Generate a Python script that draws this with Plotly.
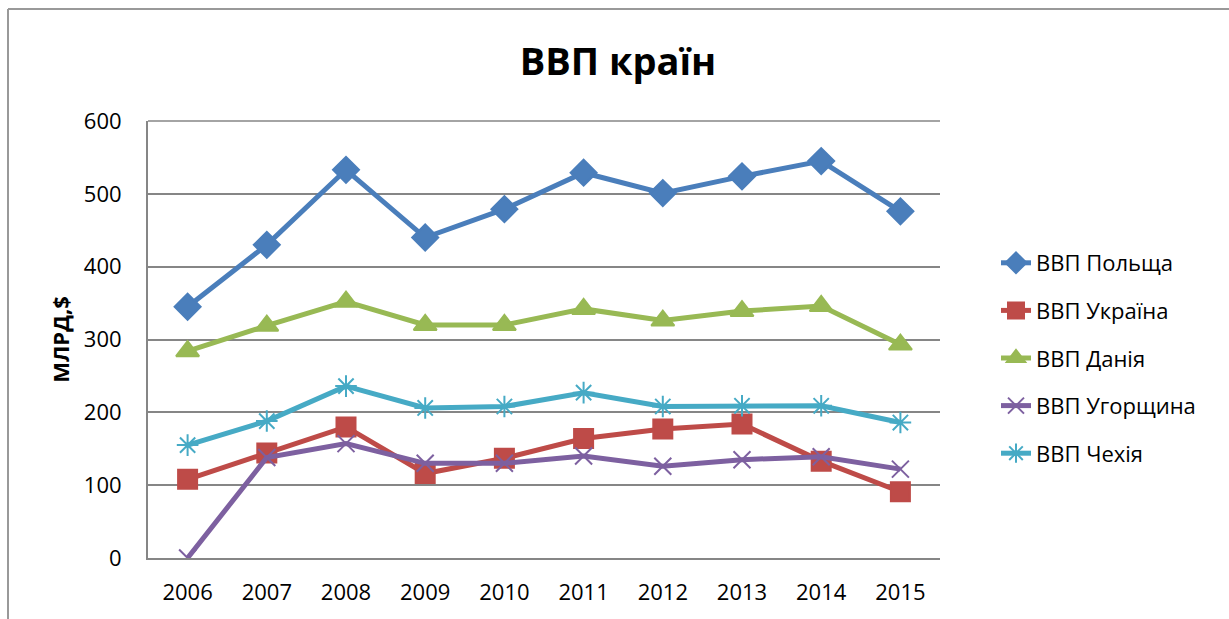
import plotly.graph_objects as go

years = ["2006", "2007", "2008", "2009", "2010", "2011", "2012", "2013", "2014", "2015"]
poland = [345, 430, 533, 440, 479, 529, 501, 524, 545, 476]
ukraine = [108, 144, 180, 116, 137, 164, 177, 184, 133, 91]
denmark = [284, 319, 352, 320, 320, 342, 326, 339, 346, 293]
hungary = [0, 138, 157, 130, 130, 140, 126, 135, 139, 122]
czech = [155, 188, 236, 206, 208, 227, 208, 209, 209, 186]

names = ["ВВП Польща", "ВВП Україна", "ВВП Данія", "ВВП Угорщина", "ВВП Чехія"]
series = [poland, ukraine, denmark, hungary, czech]
colors = ["#4a7ebb", "#be4b48", "#98b954", "#7d60a0", "#46aac5"]
symbols = ["diamond", "square", "triangle-up", "x-thin-open", "asterisk-open"]
sizes = [20, 19, 20, 17, 18]

FONT = "Open Sans, Noto Sans, DejaVu Sans, sans-serif"
GRID = "#868686"

fig = go.Figure()
for i, (n, s, c, sym, sz) in enumerate(zip(names, series, colors, symbols, sizes)):
    fig.add_trace(go.Scatter(
        x=years, y=s, name=n, mode="lines+markers",
        line=dict(color=c, width=5),
        marker=dict(symbol=sym, size=sz, color=c, line=dict(color=c, width=2)),
        legendgroup=f"g{i}",
    ))

fig.update_layout(
    width=1229, height=619,
    paper_bgcolor="white", plot_bgcolor="white",
    margin=dict(l=148, r=289, t=121, b=61, autoexpand=False),
    font=dict(family=FONT, size=22, color="black"),
    title=dict(text="<b>ВВП країн</b>", x=(618) / 1229, xanchor="center",
               y=1 - 62 / 619, yanchor="middle", xref="container", yref="container",
               font=dict(size=38, family=FONT, color="black")),
    showlegend=True,
    legend=dict(x=996 / 1229, y=1 - 358 / 619, xref="container", yref="container",
                xanchor="left", yanchor="middle", traceorder="grouped",
                tracegroupgap=16, font=dict(size=22, family=FONT),
                bgcolor="rgba(0,0,0,0)"),
)

fig.update_xaxes(type="category", showline=True, linecolor=GRID, linewidth=2,
                 showgrid=False, ticks="", ticklabelstandoff=14, automargin=False,
                 tickfont=dict(size=22), range=[-0.5, 9.5], mirror=False)
fig.update_yaxes(range=[0, 600], tickvals=[0, 100, 200, 300, 400, 500, 600],
                 showline=True, linecolor=GRID, linewidth=2,
                 showgrid=True, gridcolor=GRID, gridwidth=1.5, zeroline=False,
                 ticks="", ticklabelstandoff=20, tickfont=dict(size=22), automargin=False,
                 title=dict(text="<b>МЛРД,$</b>", font=dict(size=22), standoff=8))

# Top gridline at the upper edge of the plot area
fig.add_shape(type="line", xref="paper", yref="paper", x0=0, x1=1, y0=1, y1=1,
              line=dict(color=GRID, width=1.5), layer="below")

# Outer chart frame (left and top edges visible in the reference)
fig.add_shape(type="line", xref="paper", yref="paper",
              x0=(8 - 148) / 792, x1=(8 - 148) / 792, y0=(558 - 9) / 437, y1=(558 - 640) / 437,
              line=dict(color="#999999", width=2))
fig.add_shape(type="line", xref="paper", yref="paper",
              x0=(8 - 148) / 792, x1=(1240 - 148) / 792, y0=(558 - 9) / 437, y1=(558 - 9) / 437,
              line=dict(color="#999999", width=2))

fig.write_html("out.html", config={"displayModeBar": False},
               post_script="document.body.style.margin='0';document.body.style.overflow='hidden';")
